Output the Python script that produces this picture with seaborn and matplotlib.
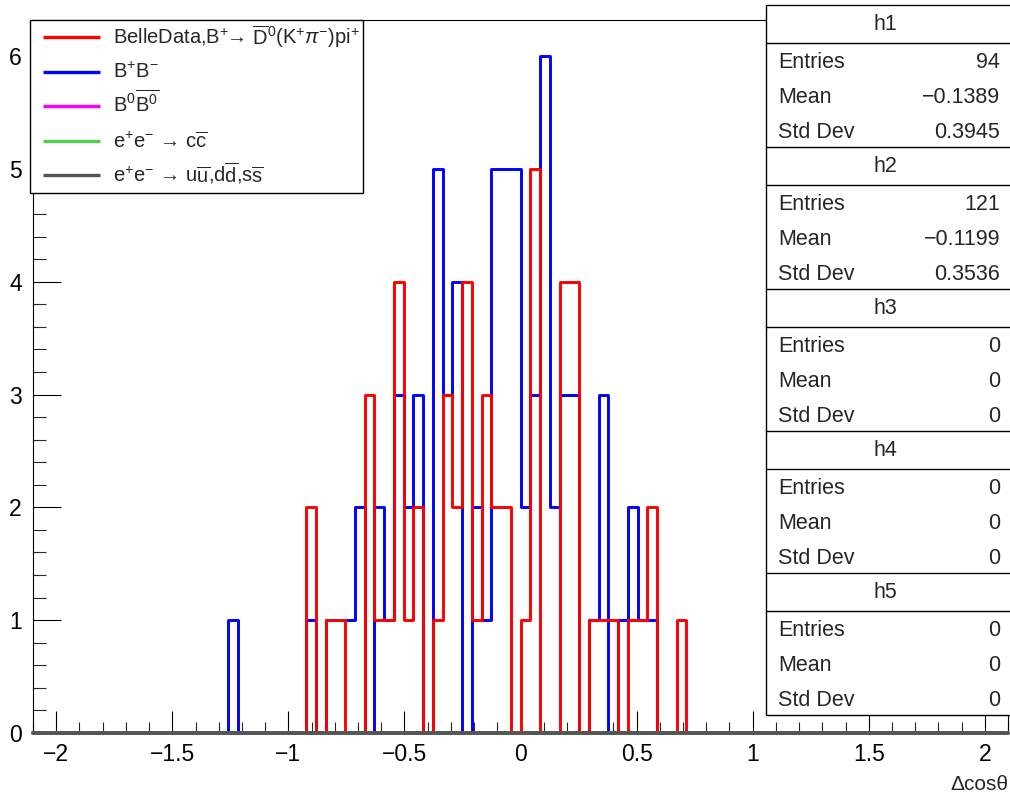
import numpy as np
import pandas as pd
import matplotlib
matplotlib.use('Agg')
import matplotlib.pyplot as plt
import seaborn as sns
from matplotlib.patches import Rectangle
from matplotlib.ticker import MultipleLocator, FuncFormatter

# 100 bins of width 0.042 between -2.1 and 2.1; counts below start at bin 20
x_min, x_max, n_bins = -2.1, 2.1, 100
first_bin = 20

belle_counts = [0, 0, 0, 0, 0, 0, 0, 0, 2, 0, 1, 1, 0, 0, 3, 1, 1, 4, 1, 2,
                0, 1, 3, 2, 4, 1, 3, 2, 2, 0, 1, 5, 0, 0, 4, 4, 0, 1, 1, 1,
                0, 1, 1, 2, 0, 0, 1]
bpbm_counts = [1, 0, 0, 0, 0, 0, 0, 0, 1, 0, 1, 1, 1, 2, 0, 2, 1, 3, 2, 3,
               0, 5, 3, 4, 0, 2, 1, 5, 5, 5, 2, 3, 6, 2, 3, 3, 0, 1, 3, 0,
               1, 2, 1, 1, 0, 0, 0]
b0b0_counts = []
ccbar_counts = []
uds_counts = []

legend_labels = [
    r'BelleData,B$^{+}\!\!\rightarrow\!$ $\overline{\mathrm{D}}^{0}$(K$^{+}\pi^{-}$)pi$^{+}$',
    r'B$^{+}$B$^{-}$',
    r'B$^{0}\overline{\mathrm{B}^{0}}$',
    r'e$^{+}$e$^{-}$ $\!\rightarrow\!$ c$\overline{\mathrm{c}}$',
    r'e$^{+}$e$^{-}$ $\!\rightarrow\!$ u$\overline{\mathrm{u}}$,d$\overline{\mathrm{d}}$,s$\overline{\mathrm{s}}$',
]
colors = ['#ff0000', '#0000ff', '#ff00ff', '#55d055', '#555555']

stat_names = ['h1', 'h2', 'h3', 'h4', 'h5']
stat_entries = ['94', '121', '0', '0', '0']
stat_means = ['\u22120.1389', '\u22120.1199', '0', '0', '0']
stat_stds = ['0.3945', '0.3536', '0', '0', '0']

sns.set_style('ticks')
plt.rcParams['font.family'] = ['Liberation Sans', 'DejaVu Sans']
plt.rcParams['mathtext.fontset'] = 'custom'
plt.rcParams['mathtext.rm'] = 'Liberation Sans'
plt.rcParams['mathtext.it'] = 'Liberation Sans:italic'
plt.rcParams['mathtext.sf'] = 'Liberation Sans'

W, H = 1010, 795
fig = plt.figure(figsize=(W / 100, H / 100), dpi=100)
ax = fig.add_axes([33 / W, 62 / H, 975 / W, 713 / H])

edges = np.linspace(x_min, x_max, n_bins + 1)
centers = (edges[:-1] + edges[1:]) / 2


def full_counts(part):
    c = np.zeros(n_bins)
    c[first_bin:first_bin + len(part)] = part
    return c


# drawing order: blue under red, empty ones on top at zero
series = [
    (bpbm_counts, colors[1], 2.1, 3, True),
    (belle_counts, colors[0], 2.1, 4, True),
    (b0b0_counts, colors[2], 2.8, 5, False),
    (ccbar_counts, colors[3], 2.8, 6, False),
    (uds_counts, colors[4], 2.8, 7, False),
]
for counts, color, lw, z, clip in series:
    df = pd.DataFrame({'x': centers, 'n': full_counts(counts)})
    sns.histplot(data=df, x='x', weights='n', bins=list(edges),
                 element='step', fill=False, color=color, linewidth=lw,
                 zorder=z, clip_on=clip, ax=ax)

ax.set_xlim(x_min, x_max)
ax.set_ylim(0, 6.32)
ax.set_xlabel('')
ax.set_ylabel('')
ax.xaxis.set_major_locator(MultipleLocator(0.5))
ax.xaxis.set_minor_locator(MultipleLocator(0.1))
ax.yaxis.set_major_locator(MultipleLocator(1))
ax.yaxis.set_minor_locator(MultipleLocator(0.2))
fmt = FuncFormatter(lambda v, p: f'{v:g}'.replace('-', '\u2212'))
ax.xaxis.set_major_formatter(fmt)
ax.yaxis.set_major_formatter(fmt)
ax.tick_params(axis='x', which='major', direction='in', length=15.5, width=0.8,
               labelsize=16.5, pad=7, colors='black')
ax.tick_params(axis='x', which='minor', direction='in', length=8, width=0.8)
ax.tick_params(axis='y', which='major', direction='in', length=20.5, width=0.8,
               labelsize=16.5, pad=8, colors='black')
ax.tick_params(axis='y', which='minor', direction='in', length=9.5, width=0.8)
for s in ax.spines.values():
    s.set_color('black')
    s.set_linewidth(0.8)

# overlay in pixel coordinates for legend and stats boxes
ov = fig.add_axes([0, 0, 1, 1], zorder=10)
ov.set_xlim(0, W)
ov.set_ylim(H, 0)
ov.axis('off')

ov.text(1008, 785, '\u0394cos\u03b8', ha='right', va='center', fontsize=15)

# legend
ov.add_patch(Rectangle((30, 20), 333, 173, facecolor='white', edgecolor='black', lw=1))
for i, (label, color) in enumerate(zip(legend_labels, colors)):
    y = 37 + 34.5 * i
    ov.plot([43, 100], [y, y], color=color, lw=2.4, solid_capstyle='butt')
    ov.text(113, y + 7, label, ha='left', va='baseline', fontsize=14.5)

# stats boxes
box_left, box_right, box_top, block_h = 766, 1012, 5, 142
ov.add_patch(Rectangle((box_left, box_top), box_right - box_left, block_h * 5,
                       facecolor='white', edgecolor='black', lw=1))
for i, name in enumerate(stat_names):
    top = box_top + block_h * i
    if i > 0:
        ov.plot([box_left, box_right], [top, top], color='black', lw=1)
    ov.plot([box_left, box_right], [top + 38, top + 38], color='black', lw=1)
    ov.text((box_left + 1004) / 2, top + 20, name, ha='center', va='center', fontsize=15.5)
    rows = [('Entries', stat_entries[i]), ('Mean', stat_means[i]), ('Std Dev', stat_stds[i])]
    for j, (lab, val) in enumerate(rows):
        y = top + 57 + 35.5 * j
        ov.text(778, y, lab, ha='left', va='center', fontsize=15.5)
        ov.text(1000, y, val, ha='right', va='center', fontsize=15.5)

fig.savefig('out.png', dpi=100)
